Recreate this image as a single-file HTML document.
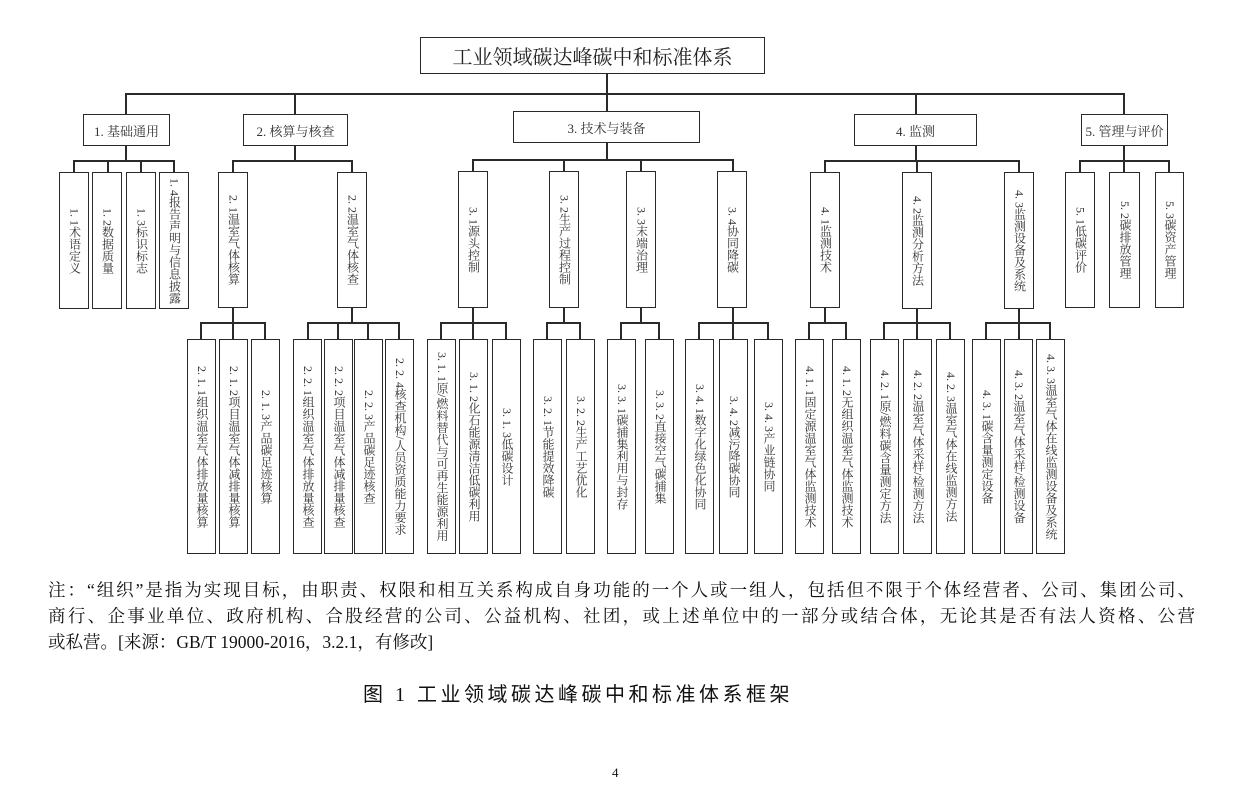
<!DOCTYPE html>
<html><head><meta charset="utf-8">
<style>
body{margin:0;background:#fff;}
#c{position:relative;width:1243px;height:800px;overflow:hidden;background:#fff;font-family:"Liberation Serif","Noto Serif CJK SC",serif;color:#333;}
.b{position:absolute;border:1.6px solid #2a2a2a;box-sizing:border-box;background:#fff;display:flex;align-items:center;justify-content:center;}
.h1{font-size:13px;color:#333;white-space:nowrap;}
.v{writing-mode:vertical-rl;font-size:12px;line-height:13px;letter-spacing:0;color:#333;white-space:nowrap;}
.l{position:absolute;background:#2a2a2a;}
</style></head><body><div id="c">

<div class="b" style="left:420px;top:37px;width:345px;height:37px;font-size:20px;color:#222;">工业领域碳达峰碳中和标准体系</div>

<div class="l" style="left:606px;top:74px;width:1.5px;height:20px"></div>
<div class="l" style="left:126px;top:93px;width:998px;height:1.5px"></div>
<div class="l" style="left:125px;top:93px;width:1.5px;height:21px"></div>
<div class="l" style="left:294px;top:93px;width:1.5px;height:21px"></div>
<div class="l" style="left:606px;top:93px;width:1.5px;height:18px"></div>
<div class="l" style="left:915px;top:93px;width:1.5px;height:21px"></div>
<div class="l" style="left:1123px;top:93px;width:1.5px;height:21px"></div>

<div class="b h1" style="left:83px;top:114px;width:87px;height:32px">1. 基础通用</div>
<div class="b h1" style="left:243px;top:114px;width:105px;height:32px">2. 核算与核查</div>
<div class="b h1" style="left:513px;top:111px;width:187px;height:32px">3. 技术与装备</div>
<div class="b h1" style="left:854px;top:114px;width:123px;height:32px">4. 监测</div>
<div class="b h1" style="left:1081px;top:114px;width:87px;height:32px">5. 管理与评价</div>

<div class="l" style="left:125px;top:146px;width:1.5px;height:14px"></div>
<div class="l" style="left:294px;top:146px;width:1.5px;height:14px"></div>
<div class="l" style="left:606px;top:143px;width:1.5px;height:16px"></div>
<div class="l" style="left:915px;top:146px;width:1.5px;height:14px"></div>
<div class="l" style="left:1123px;top:146px;width:1.5px;height:14px"></div>
<div class="l" style="left:73px;top:160px;width:101px;height:1.5px"></div>
<div class="l" style="left:232px;top:160px;width:120px;height:1.5px"></div>
<div class="l" style="left:472px;top:159px;width:261px;height:1.5px"></div>
<div class="l" style="left:824px;top:160px;width:195px;height:1.5px"></div>
<div class="l" style="left:1079px;top:160px;width:90px;height:1.5px"></div>
<div class="l" style="left:73px;top:160px;width:1.5px;height:12px"></div>
<div class="l" style="left:107px;top:160px;width:1.5px;height:12px"></div>
<div class="l" style="left:140px;top:160px;width:1.5px;height:12px"></div>
<div class="l" style="left:173px;top:160px;width:1.5px;height:12px"></div>
<div class="l" style="left:232px;top:160px;width:1.5px;height:12px"></div>
<div class="l" style="left:351px;top:160px;width:1.5px;height:12px"></div>
<div class="l" style="left:472px;top:159px;width:1.5px;height:12px"></div>
<div class="l" style="left:563px;top:159px;width:1.5px;height:12px"></div>
<div class="l" style="left:640px;top:159px;width:1.5px;height:12px"></div>
<div class="l" style="left:732px;top:159px;width:1.5px;height:12px"></div>
<div class="l" style="left:824px;top:160px;width:1.5px;height:12px"></div>
<div class="l" style="left:916px;top:160px;width:1.5px;height:12px"></div>
<div class="l" style="left:1018px;top:160px;width:1.5px;height:12px"></div>
<div class="l" style="left:1079px;top:160px;width:1.5px;height:12px"></div>
<div class="l" style="left:1123px;top:160px;width:1.5px;height:12px"></div>
<div class="l" style="left:1168px;top:160px;width:1.5px;height:12px"></div>

<div class="b v" style="left:59px;top:172px;width:30px;height:137px">1. 1术语定义</div>
<div class="b v" style="left:92px;top:172px;width:30px;height:137px">1. 2数据质量</div>
<div class="b v" style="left:126px;top:172px;width:30px;height:137px">1. 3标识标志</div>
<div class="b v" style="left:159px;top:172px;width:30px;height:137px">1. 4报告声明与信息披露</div>
<div class="b v" style="left:218px;top:172px;width:30px;height:136px">2. 1温室气体核算</div>
<div class="b v" style="left:337px;top:172px;width:30px;height:136px">2. 2温室气体核查</div>
<div class="b v" style="left:458px;top:171px;width:30px;height:137px">3. 1源头控制</div>
<div class="b v" style="left:549px;top:171px;width:30px;height:137px">3. 2生产过程控制</div>
<div class="b v" style="left:626px;top:171px;width:30px;height:137px">3. 3末端治理</div>
<div class="b v" style="left:717px;top:171px;width:30px;height:137px">3. 4协同降碳</div>
<div class="b v" style="left:810px;top:172px;width:30px;height:136px">4. 1监测技术</div>
<div class="b v" style="left:902px;top:172px;width:30px;height:137px">4. 2监测分析方法</div>
<div class="b v" style="left:1004px;top:172px;width:30px;height:137px">4. 3监测设备及系统</div>
<div class="b v" style="left:1065px;top:172px;width:30px;height:136px">5. 1低碳评价</div>
<div class="b v" style="left:1109px;top:172px;width:31px;height:136px">5. 2碳排放管理</div>
<div class="b v" style="left:1155px;top:172px;width:29px;height:136px">5. 3碳资产管理</div>

<div class="l" style="left:232px;top:308px;width:1.5px;height:14px"></div>
<div class="l" style="left:351px;top:308px;width:1.5px;height:14px"></div>
<div class="l" style="left:472px;top:308px;width:1.5px;height:14px"></div>
<div class="l" style="left:563px;top:308px;width:1.5px;height:14px"></div>
<div class="l" style="left:640px;top:308px;width:1.5px;height:14px"></div>
<div class="l" style="left:732px;top:308px;width:1.5px;height:14px"></div>
<div class="l" style="left:824px;top:308px;width:1.5px;height:14px"></div>
<div class="l" style="left:916px;top:308px;width:1.5px;height:14px"></div>
<div class="l" style="left:1018px;top:308px;width:1.5px;height:14px"></div>
<div class="l" style="left:200px;top:322px;width:65px;height:1.5px"></div>
<div class="l" style="left:307px;top:322px;width:92px;height:1.5px"></div>
<div class="l" style="left:440px;top:322px;width:66px;height:1.5px"></div>
<div class="l" style="left:546px;top:322px;width:34px;height:1.5px"></div>
<div class="l" style="left:620px;top:322px;width:39px;height:1.5px"></div>
<div class="l" style="left:698px;top:322px;width:70px;height:1.5px"></div>
<div class="l" style="left:808px;top:322px;width:38px;height:1.5px"></div>
<div class="l" style="left:883px;top:322px;width:67px;height:1.5px"></div>
<div class="l" style="left:985px;top:322px;width:65px;height:1.5px"></div>
<div class="l" style="left:200px;top:322px;width:1.5px;height:17px"></div>
<div class="l" style="left:232px;top:322px;width:1.5px;height:17px"></div>
<div class="l" style="left:264px;top:322px;width:1.5px;height:17px"></div>
<div class="l" style="left:307px;top:322px;width:1.5px;height:17px"></div>
<div class="l" style="left:337px;top:322px;width:1.5px;height:17px"></div>
<div class="l" style="left:367px;top:322px;width:1.5px;height:17px"></div>
<div class="l" style="left:398px;top:322px;width:1.5px;height:17px"></div>
<div class="l" style="left:440px;top:322px;width:1.5px;height:17px"></div>
<div class="l" style="left:472px;top:322px;width:1.5px;height:17px"></div>
<div class="l" style="left:505px;top:322px;width:1.5px;height:17px"></div>
<div class="l" style="left:546px;top:322px;width:1.5px;height:17px"></div>
<div class="l" style="left:579px;top:322px;width:1.5px;height:17px"></div>
<div class="l" style="left:620px;top:322px;width:1.5px;height:17px"></div>
<div class="l" style="left:658px;top:322px;width:1.5px;height:17px"></div>
<div class="l" style="left:698px;top:322px;width:1.5px;height:17px"></div>
<div class="l" style="left:732px;top:322px;width:1.5px;height:17px"></div>
<div class="l" style="left:767px;top:322px;width:1.5px;height:17px"></div>
<div class="l" style="left:808px;top:322px;width:1.5px;height:17px"></div>
<div class="l" style="left:845px;top:322px;width:1.5px;height:17px"></div>
<div class="l" style="left:883px;top:322px;width:1.5px;height:17px"></div>
<div class="l" style="left:916px;top:322px;width:1.5px;height:17px"></div>
<div class="l" style="left:949px;top:322px;width:1.5px;height:17px"></div>
<div class="l" style="left:985px;top:322px;width:1.5px;height:17px"></div>
<div class="l" style="left:1018px;top:322px;width:1.5px;height:17px"></div>
<div class="l" style="left:1049px;top:322px;width:1.5px;height:17px"></div>

<div class="b v" style="left:187px;top:339px;width:29px;height:215px">2. 1. 1组织温室气体排放量核算</div>
<div class="b v" style="left:219px;top:339px;width:29px;height:215px">2. 1. 2项目温室气体减排量核算</div>
<div class="b v" style="left:251px;top:339px;width:29px;height:215px">2. 1. 3产品碳足迹核算</div>
<div class="b v" style="left:293px;top:339px;width:29px;height:215px">2. 2. 1组织温室气体排放量核查</div>
<div class="b v" style="left:324px;top:339px;width:29px;height:215px">2. 2. 2项目温室气体减排量核查</div>
<div class="b v" style="left:354px;top:339px;width:29px;height:215px">2. 2. 3产品碳足迹核查</div>
<div class="b v" style="left:385px;top:339px;width:29px;height:215px">2. 2. 4核查机构/人员资质能力要求</div>
<div class="b v" style="left:427px;top:339px;width:29px;height:215px">3. 1. 1原/燃料替代与可再生能源利用</div>
<div class="b v" style="left:459px;top:339px;width:29px;height:215px">3. 1. 2化石能源清洁低碳利用</div>
<div class="b v" style="left:492px;top:339px;width:29px;height:215px">3. 1. 3低碳设计</div>
<div class="b v" style="left:533px;top:339px;width:29px;height:215px">3. 2. 1节能提效降碳</div>
<div class="b v" style="left:566px;top:339px;width:29px;height:215px">3. 2. 2生产工艺优化</div>
<div class="b v" style="left:607px;top:339px;width:29px;height:215px">3. 3. 1碳捕集利用与封存</div>
<div class="b v" style="left:645px;top:339px;width:29px;height:215px">3. 3. 2直接空气碳捕集</div>
<div class="b v" style="left:685px;top:339px;width:29px;height:215px">3. 4. 1数字化绿色化协同</div>
<div class="b v" style="left:719px;top:339px;width:29px;height:215px">3. 4. 2减污降碳协同</div>
<div class="b v" style="left:754px;top:339px;width:29px;height:215px">3. 4. 3产业链协同</div>
<div class="b v" style="left:795px;top:339px;width:29px;height:215px">4. 1. 1固定源温室气体监测技术</div>
<div class="b v" style="left:832px;top:339px;width:29px;height:215px">4. 1. 2无组织温室气体监测技术</div>
<div class="b v" style="left:870px;top:339px;width:29px;height:215px">4. 2. 1原/燃料碳含量测定方法</div>
<div class="b v" style="left:903px;top:339px;width:29px;height:215px">4. 2. 2温室气体采样/检测方法</div>
<div class="b v" style="left:936px;top:339px;width:29px;height:215px">4. 2. 3温室气体在线监测方法</div>
<div class="b v" style="left:972px;top:339px;width:29px;height:215px">4. 3. 1碳含量测定设备</div>
<div class="b v" style="left:1004px;top:339px;width:29px;height:215px">4. 3. 2温室气体采样/检测设备</div>
<div class="b v" style="left:1036px;top:339px;width:29px;height:215px">4. 3. 3温室气体在线监测设备及系统</div>

<div style="position:absolute;left:48px;top:577px;width:1147px;font-size:17.5px;line-height:26px;color:#111;">
<div style="text-align:justify;text-align-last:justify;white-space:nowrap;">注：“组织”是指为实现目标，由职责、权限和相互关系构成自身功能的一个人或一组人，包括但不限于个体经营者、公司、集团公司、</div>
<div style="text-align:justify;text-align-last:justify;white-space:nowrap;">商行、企事业单位、政府机构、合股经营的公司、公益机构、社团，或上述单位中的一部分或结合体，无论其是否有法人资格、公营</div>
<div>或私营。[来源：GB/T 19000-2016，3.2.1，有修改]</div>
</div>

<div style="position:absolute;left:363px;top:680px;font-size:20px;line-height:26px;color:#111;font-family:'Liberation Serif','Noto Sans CJK SC',sans-serif;letter-spacing:3.5px;white-space:nowrap;">图 1 <span style="font-family:'Noto Sans CJK SC',sans-serif;">工业领域碳达峰碳中和标准体系框架</span></div>

<div style="position:absolute;left:612px;top:765px;font-size:13px;color:#111;">4</div>
</div></body></html>
